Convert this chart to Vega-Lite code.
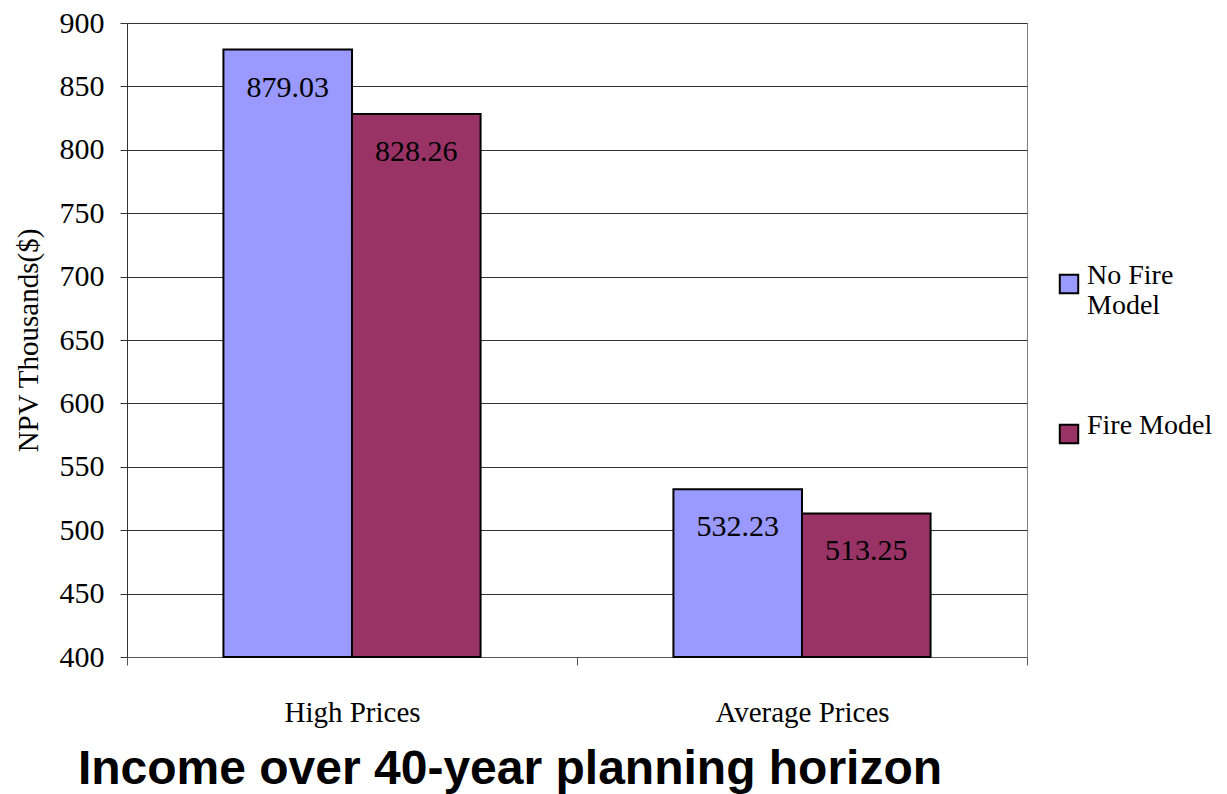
{
  "$schema": "https://vega.github.io/schema/vega-lite/v6.json",
  "autosize": {"type": "none"},
  "padding": {"left": 127, "top": 23, "right": 200, "bottom": 137},
  "width": 900,
  "height": 634,
  "background": "white",
  "config": {
    "view": {"stroke": "#808080", "strokeWidth": 1},
    "font": "Times New Roman"
  },
  "title": {
    "text": "Income over 40-year planning horizon",
    "orient": "bottom",
    "font": "Liberation Sans",
    "fontSize": 48,
    "fontWeight": "bold",
    "color": "black",
    "anchor": "middle",
    "dx": -67,
    "offset": 19
  },
  "data": {
    "values": [
      {"category": "High Prices", "model": "No Fire Model", "value": 879.03},
      {"category": "High Prices", "model": "Fire Model", "value": 828.26},
      {"category": "Average Prices", "model": "No Fire Model", "value": 532.23},
      {"category": "Average Prices", "model": "Fire Model", "value": 513.25}
    ]
  },
  "encoding": {
    "x": {
      "field": "category",
      "type": "nominal",
      "sort": ["High Prices", "Average Prices"],
      "scale": {"paddingInner": 0, "paddingOuter": 0},
      "axis": {
        "title": null,
        "labelAngle": 0,
        "labelFont": "Times New Roman",
        "labelFontSize": 29,
        "labelColor": "black",
        "labelPadding": 33,
        "tickBand": "extent",
        "tickSize": 8,
        "tickColor": "#555",
        "domainColor": "#555",
        "grid": false
      }
    },
    "xOffset": {
      "field": "model",
      "type": "nominal",
      "sort": ["No Fire Model", "Fire Model"],
      "scale": {"paddingInner": 0, "paddingOuter": 0.75}
    },
    "y": {
      "field": "value",
      "type": "quantitative",
      "scale": {"domain": [400, 900], "zero": false, "nice": false},
      "axis": {
        "title": "NPV  Thousands($)",
        "titleFont": "Times New Roman",
        "titleFontSize": 29,
        "titleFontWeight": "normal",
        "titleColor": "black",
        "titlePadding": 16,
        "values": [400, 450, 500, 550, 600, 650, 700, 750, 800, 850, 900],
        "labelFont": "Times New Roman",
        "labelFontSize": 30,
        "labelColor": "black",
        "labelPadding": 16,
        "tickSize": 7,
        "tickColor": "#333",
        "domainColor": "#333",
        "gridColor": "#333",
        "gridWidth": 1,
        "grid": true
      }
    }
  },
  "layer": [
    {
      "mark": {"type": "bar", "stroke": "black", "strokeWidth": 2},
      "encoding": {
        "y2": {"datum": 400},
        "color": {
          "field": "model",
          "type": "nominal",
          "sort": ["No Fire Model", "Fire Model"],
          "scale": {"domain": ["No Fire Model", "Fire Model"], "range": ["#9999FF", "#993366"]},
          "legend": {
            "title": null,
            "orient": "none",
            "legendX": 928,
            "legendY": 247,
            "symbolType": "square",
            "symbolSize": 340,
            "symbolStrokeColor": "black",
            "symbolStrokeWidth": 2,
            "labelFont": "Times New Roman",
            "labelFontSize": 28,
            "labelColor": "black",
            "labelOffset": 4,
            "labelBaseline": "alphabetic",
            "rowPadding": 92,
            "labelLimit": 300,
            "labelExpr": "datum.label == 'No Fire Model' ? ['No Fire', 'Model'] : datum.label"
          }
        }
      }
    },
    {
      "mark": {"type": "text", "font": "Times New Roman", "fontSize": 30, "color": "black", "baseline": "middle", "dy": 38},
      "encoding": {
        "text": {"field": "value", "type": "quantitative", "format": ".2f"}
      }
    }
  ]
}
